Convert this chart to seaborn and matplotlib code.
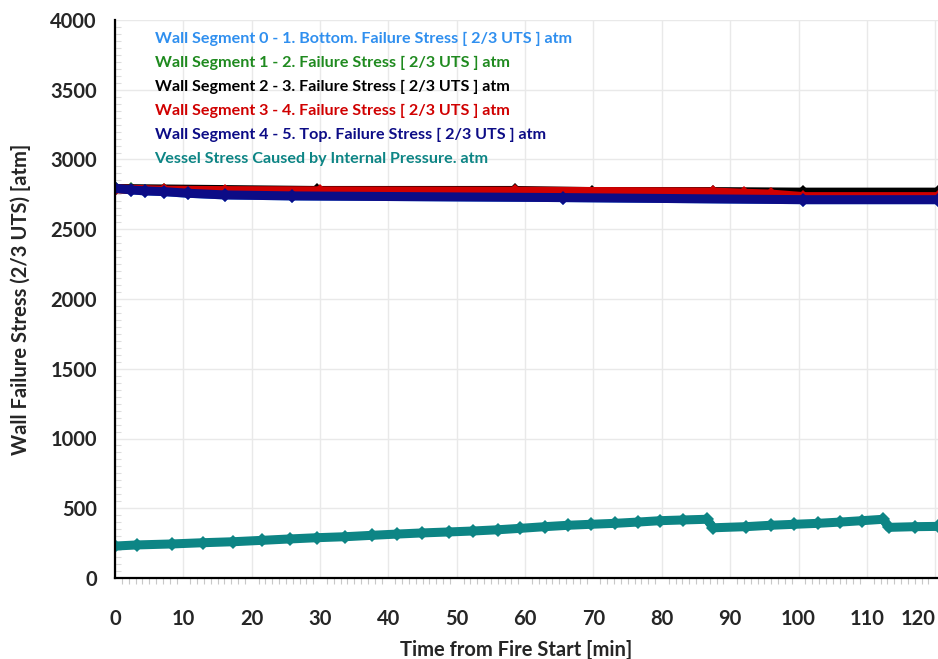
import numpy as np
import pandas as pd
import matplotlib
matplotlib.use("Agg")
import matplotlib.pyplot as plt
import seaborn as sns

# zaman (dakika) ve gerilme degerleri (atm)
t_seg0 = [0, 2.4, 4.4, 7.1, 10.7, 16.1, 25.9, 65.6, 100.7, 120.4]
s_seg0 = [2794, 2782, 2775, 2770, 2758, 2746, 2739, 2727, 2712, 2712]

t_seg1 = [0, 2.4, 7.1, 16.1, 30, 58.5, 87.5, 100.7, 120.4]
s_seg1 = [2794, 2786, 2778, 2770, 2765, 2760, 2750, 2720, 2720]

t_seg2 = [0, 29.6, 58.5, 69.8, 87.5, 100.7, 120.4]
s_seg2 = [2792, 2778, 2778, 2770, 2770, 2766, 2766]

t_seg3 = [0, 7.1, 16.1, 30, 58.5, 87.5, 92, 96, 100.7, 120.4]
s_seg3 = [2790, 2780, 2777, 2775, 2773, 2767, 2758, 2752, 2734, 2734]

t_seg4 = [0, 2.4, 4.4, 7.1, 10.7, 16.1, 25.9, 65.6, 100.7, 120.4]
s_seg4 = [2794, 2782, 2775, 2770, 2758, 2746, 2739, 2727, 2712, 2712]

t_vessel = [0, 3.2, 8.3, 12.9, 17.3, 21.5, 25.6, 29.6, 33.7, 37.6, 41.3, 44.9,
            48.8, 52.4, 56.1, 59.3, 62.9, 66.3, 69.6, 73.2, 76.5, 79.8, 83.1,
            86.6, 87.5, 92.3, 95.9, 99.4, 102.9, 106.1, 109.3, 112.4, 113.2,
            117.1, 120.4]
s_vessel = [229, 237, 244, 253, 260, 270, 280, 289, 296, 306, 315, 323,
            330, 337, 346, 356, 368, 378, 385, 392, 401, 411, 416,
            421, 360, 368, 378, 385, 392, 401, 411, 421, 363,
            368, 370]

labels = ["Wall Segment 0 - 1. Bottom. Failure Stress [ 2/3 UTS ] atm",
          "Wall Segment 1 - 2. Failure Stress [ 2/3 UTS ] atm",
          "Wall Segment 2 - 3. Failure Stress [ 2/3 UTS ] atm",
          "Wall Segment 3 - 4. Failure Stress [ 2/3 UTS ] atm",
          "Wall Segment 4 - 5. Top. Failure Stress [ 2/3 UTS ] atm",
          "Vessel Stress Caused by Internal Pressure. atm"]
colors = ["#2f8fef", "#1f8a1f", "#000000", "#d00000", "#0c0c86", "#0d8585"]

sns.set_theme(style="whitegrid")
plt.rcParams["font.family"] = ["Lato", "DejaVu Sans"]

fig = plt.figure(figsize=(9.38, 6.59), dpi=100)
ax = fig.add_axes([115 / 938, 1 - 578 / 659, 823 / 938, 558 / 659])

series = [(t_seg0, s_seg0), (t_seg1, s_seg1), (t_seg2, s_seg2),
          (t_seg3, s_seg3), (t_seg4, s_seg4), (t_vessel, s_vessel)]
for (t, s), lab, c in zip(series, labels, colors):
    df = pd.DataFrame({"t": t, "s": s})
    sns.lineplot(data=df, x="t", y="s", color=c, linewidth=6.5, marker="D",
                 markersize=7, markeredgewidth=0, label=lab, ax=ax)

ax.set_xlim(0, 120.4)
ax.set_ylim(0, 4000)
ax.set_xticks(np.arange(0, 121, 10))
ax.set_yticks(np.arange(0, 4001, 500))
ax.set_xticks(np.arange(0, 121, 1), minor=True)
ax.set_yticks(np.arange(0, 4001, 50), minor=True)
ax.grid(True, which="major", color="#e9e9e9", linewidth=1)
ax.grid(False, which="minor")

for side in ["top", "right"]:
    ax.spines[side].set_visible(False)
for side in ["left", "bottom"]:
    ax.spines[side].set_color("black")
    ax.spines[side].set_linewidth(1.6)

ax.tick_params(axis="both", which="major", direction="out", length=9, width=1.2,
               color="#222222", labelsize=14.5)
ax.tick_params(axis="x", which="major", pad=13)
ax.tick_params(axis="y", which="major", pad=4)
ax.tick_params(axis="x", which="minor", direction="out", length=4, width=0.8,
               color="#c8c8c8", bottom=True)
ax.tick_params(axis="y", which="minor", direction="in", length=4, width=0.8,
               color="#dddddd", left=True)
for lbl in ax.get_xticklabels() + ax.get_yticklabels():
    lbl.set_fontweight("bold")
ax.get_xticklabels()[-1].set_horizontalalignment("right")

ax.set_xlabel("Time from Fire Start [min]", fontsize=14.5, fontweight="bold")
ax.set_ylabel("Wall Failure Stress (2/3 UTS) [atm]", fontsize=14.5, fontweight="bold")
ax.xaxis.set_label_coords(0.488, -0.111)
ax.yaxis.set_label_coords(-0.1025, 0.5)

leg = ax.legend(loc="upper left", bbox_to_anchor=(0.048, 0.979), frameon=False,
                handlelength=0, handletextpad=0, borderpad=0, borderaxespad=0,
                labelspacing=0.6, labelcolor="linecolor",
                prop={"size": 11.65, "weight": "bold"})
for h in leg.legend_handles:
    h.set_visible(False)

fig.savefig("out.png", dpi=100)
